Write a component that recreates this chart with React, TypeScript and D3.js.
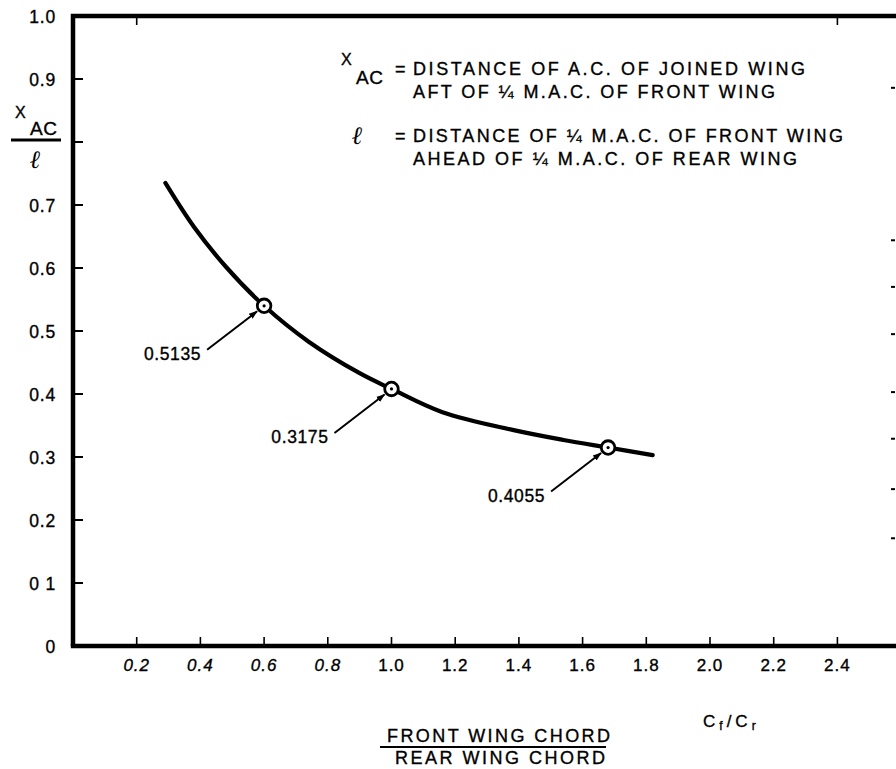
import React from 'react';
import * as d3 from 'd3';

// curve (Cf/Cr vs x_AC / l)
const curveX = [0.29, 0.38, 0.48, 0.6, 0.74, 0.9, 1.0, 1.16, 1.38, 1.54, 1.68, 1.82];
const curveY = [0.735, 0.665, 0.602, 0.54, 0.483, 0.433, 0.408, 0.371, 0.343, 0.327, 0.315, 0.303];

// marked design points and their callouts
const pointX = [0.6, 1.0, 1.68];
const pointY = [0.54, 0.408, 0.315];
const pointLabels = ['0.5135', '0.3175', '0.4055'];

const xTicks = [0.2, 0.4, 0.6, 0.8, 1.0, 1.2, 1.4, 1.6, 1.8, 2.0, 2.2, 2.4];
const xTickLabels = ['0.2', '0.4', '0.6', '0.8', '1.0', '1.2', '1.4', '1.6', '1.8', '2.0', '2.2', '2.4'];
const topTicks = [0.2, 2.4];
const yTicks = [0, 0.1, 0.2, 0.3, 0.4, 0.5, 0.6, 0.7, 0.8, 0.9, 1.0];
const yTickLabels = ['0', '0 1', '0.2', '0.3', '0.4', '0.5', '0.6', '0.7', '', '0.9', '1.0'];
// stray marks of the cut-off right border
const rightMarks = [0.886, 0.644, 0.57, 0.495, 0.403, 0.329, 0.249, 0.171];

const defLines = [
  'DISTANCE OF A.C. OF JOINED WING',
  'AFT OF ¼ M.A.C. OF FRONT WING',
  'DISTANCE OF ¼ M.A.C. OF FRONT WING',
  'AHEAD OF ¼ M.A.C. OF REAR WING',
];

const W = 896;
const H = 769;
const font = '"Liberation Sans", Arial, Helvetica, sans-serif';
const ink = { fill: '#000', stroke: '#000', strokeWidth: 0.35 };

export default function App() {
  const x = d3.scaleLinear().domain([0, 2.4]).range([73, 837.4]);
  const y = d3.scaleLinear().domain([0, 1]).range([646, 16]);

  const pts: [number, number][] = curveX.map((v, i) => [v, curveY[i]]);
  const line = d3.line<[number, number]>()
    .x(d => x(d[0]))
    .y(d => y(d[1]))
    .curve(d3.curveCatmullRom.alpha(0.5));

  const x0 = x(0);
  const y0 = y(0);
  const yTop = y(1);

  // definition block layout: start x, baselines, line widths
  const defX = 413;
  const defY = [75, 98, 142, 165];
  const defLen = [392, 362, 430, 384];

  return (
    <svg width={W} height={H} style={{ position: 'absolute', left: 0, top: 0, background: '#fff' }}
      fontFamily={font}>
      <defs>
        <marker id="ah" viewBox="0 0 10 10" refX="9" refY="5" markerWidth="9" markerHeight="9"
          markerUnits="userSpaceOnUse" orient="auto">
          <path d="M0,1.5 L10,5 L0,8.5 Z" fill="#000" />
        </marker>
      </defs>
      <rect width={W} height={H} fill="#fff" />

      {/* frame */}
      <path d={`M${x0},${y0} L${x0},${yTop} L${W + 5},${yTop}`} fill="none" stroke="#000" strokeWidth={4.5} />
      <line x1={x0 - 2.2} x2={W + 5} y1={y0} y2={y0} stroke="#000" strokeWidth={4.5} />

      {/* x ticks */}
      {xTicks.map((t, i) => (
        <g key={'xt' + i}>
          <line x1={x(t)} x2={x(t)} y1={y0} y2={y0 - 9} stroke="#000" strokeWidth={1.6} />
          <text x={x(t)} y={y0 + 25} textAnchor="middle" fontSize={17} letterSpacing={1}
            fontStyle={t < 0.9 ? 'italic' : 'normal'} {...ink}>{xTickLabels[i]}</text>
        </g>
      ))}
      {topTicks.map((t, i) => (
        <line key={'tt' + i} x1={x(t)} x2={x(t)} y1={yTop} y2={yTop + 9} stroke="#000" strokeWidth={1.6} />
      ))}

      {/* y ticks */}
      {yTicks.map((t, i) => (
        <g key={'yt' + i}>
          {t > 0 && t < 1 && (
            <line x1={x0} x2={x0 + 10} y1={y(t)} y2={y(t)} stroke="#000" strokeWidth={2} />
          )}
          <text x={56} y={y(t) + 6.5} textAnchor="end" fontSize={17.5} letterSpacing={0.8} {...ink}>{yTickLabels[i]}</text>
        </g>
      ))}

      {rightMarks.map((v, i) => (
        <line key={'rm' + i} x1={891} x2={895} y1={y(v)} y2={y(v)} stroke="#000" strokeWidth={2} />
      ))}

      {/* y axis title: x_AC / l */}
      <text x={15} y={118} fontSize={16} {...ink}>X</text>
      <text x={30} y={135} fontSize={19} letterSpacing={0.5} {...ink}>AC</text>
      <line x1={11} x2={61} y1={140} y2={140} stroke="#000" strokeWidth={2.8} />
      <text x={30} y={168} fontSize={25} fontFamily="'DejaVu Serif', serif" fontStyle="italic" fontWeight="bold">ℓ</text>

      {/* curve */}
      <path d={line(pts) ?? ''} fill="none" stroke="#000" strokeWidth={4.2} strokeLinecap="round" />

      {/* points and callouts */}
      {pointX.map((v, i) => {
        const px = x(v);
        const py = y(pointY[i]);
        const tx = px - 57;
        const ty = py + 44;
        return (
          <g key={'p' + i}>
            <line x1={tx} y1={ty} x2={px - 7} y2={py + 5.5} stroke="#000" strokeWidth={2} markerEnd="url(#ah)" />
            <circle cx={px} cy={py} r={6.8} fill="#fff" stroke="#000" strokeWidth={2.8} />
            <circle cx={px} cy={py} r={1.6} fill="#000" />
            <text x={tx - 6} y={ty + 10} textAnchor="end" fontSize={17.5} letterSpacing={0.6} {...ink}>{pointLabels[i]}</text>
          </g>
        );
      })}

      {/* legend definitions */}
      <g fontSize={18} {...ink}>
        <text x={341} y={65} fontSize={16}>X</text>
        <text x={356} y={84} fontSize={19} letterSpacing={0.5}>AC</text>
        <text x={395} y={defY[0]}>=</text>
        <text x={352} y={defY[2] + 2} fontSize={25} fontFamily="'DejaVu Serif', serif" fontStyle="italic" fontWeight="bold" strokeWidth={0}>ℓ</text>
        <text x={395} y={defY[2]}>=</text>
        {defLines.map((s, i) => (
          <text key={'d' + i} x={defX} y={defY[i]} textLength={defLen[i]} lengthAdjust="spacing">{s}</text>
        ))}
      </g>

      {/* x axis titles */}
      <g fontSize={18} {...ink}>
        <text x={387} y={742} textLength={223} lengthAdjust="spacing">FRONT WING CHORD</text>
        <text x={395} y={764} textLength={210} lengthAdjust="spacing">REAR WING CHORD</text>
      </g>
      <line x1={380} x2={606} y1={747} y2={747} stroke="#000" strokeWidth={2} />
      <text x={703} y={727} fontSize={17} letterSpacing={4} {...ink}>
        C<tspan fontSize={12} dy={3}>f</tspan><tspan dy={-3}>/C</tspan><tspan fontSize={12} dy={3}>r</tspan>
      </text>
    </svg>
  );
}
